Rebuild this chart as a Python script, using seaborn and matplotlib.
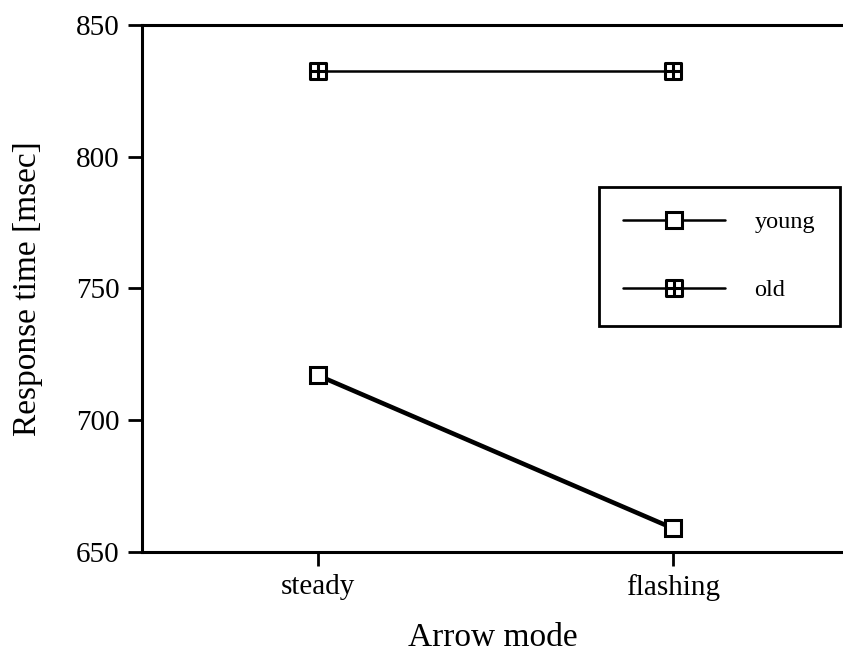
import matplotlib
matplotlib.use("Agg")
import matplotlib.pyplot as plt
import seaborn as sns
import pandas as pd
from matplotlib.path import Path
from matplotlib.lines import Line2D

modes = ["steady", "flashing"]
young = [717, 659]
old = [832.5, 832.5]
groups = ["young", "old"]
yticks = [650, 700, 750, 800, 850]

df = pd.DataFrame({
    "mode": modes * 2,
    "rt": young + old,
    "group": ["young"] * 2 + ["old"] * 2,
})

sns.set_theme(style="ticks")
plt.rcParams["font.family"] = ["Liberation Serif", "DejaVu Serif"]
plt.rcParams["text.color"] = "black"
plt.rcParams["axes.labelcolor"] = "black"
plt.rcParams["xtick.color"] = "black"
plt.rcParams["ytick.color"] = "black"

# square with a plus inside
sq_cross = Path(
    [(-1, -1), (1, -1), (1, 1), (-1, 1), (-1, -1),
     (-1, 0), (1, 0), (0, -1), (0, 1)],
    [Path.MOVETO, Path.LINETO, Path.LINETO, Path.LINETO, Path.CLOSEPOLY,
     Path.MOVETO, Path.LINETO, Path.MOVETO, Path.LINETO],
)

fig = plt.figure(figsize=(8.43, 6.57), dpi=100)
ax = fig.add_axes([0.1684, 0.1598, 1 - 0.1684, 0.962 - 0.1598])

sns.lineplot(data=df, x="mode", y="rt", hue="group", style="group",
             palette={"young": "black", "old": "black"},
             markers={"young": "s", "old": sq_cross},
             dashes=False, ax=ax, legend=False, sort=False)

lw = {"young": 3.3, "old": 1.8}
for line, g in zip(ax.get_lines(), groups):
    line.set_linewidth(lw[g])
    line.set_markersize(11.5)
    line.set_markerfacecolor("white")
    line.set_markeredgecolor("black")
    line.set_markeredgewidth(2.2)
    line.set_zorder(3)

ax.set_xlim(-0.496, 1.479)
ax.set_ylim(650, 850)
ax.set_yticks(yticks)
ax.set_yticklabels([str(v) for v in yticks])

for s in ["left", "bottom", "top"]:
    ax.spines[s].set_linewidth(2.2)
    ax.spines[s].set_color("black")
ax.spines["right"].set_visible(False)

ax.tick_params(axis="both", direction="out", length=10, width=2.0,
               labelsize=21, colors="black", labelcolor="black", pad=6)
ax.set_xlabel("Arrow mode", fontsize=24, labelpad=15, color="black")
ax.set_ylabel("Response time [msec]", fontsize=24, labelpad=24, color="black")

handles = [
    Line2D([], [], color="black", lw=1.8, marker="s", markersize=11,
           markerfacecolor="white", markeredgecolor="black", markeredgewidth=2.2),
    Line2D([], [], color="black", lw=1.8, marker=sq_cross, markersize=11,
           markerfacecolor="white", markeredgecolor="black", markeredgewidth=2.2),
]
leg = ax.legend(handles, groups, loc="upper left",
                bbox_to_anchor=(0.652, 0.6926), fontsize=17.5,
                handlelength=4.2, handletextpad=1.2, labelspacing=1.9,
                borderpad=1.0, borderaxespad=0, fancybox=False,
                framealpha=1, edgecolor="black")
leg.get_frame().set_linewidth(2.0)
for t in leg.get_texts():
    t.set_color("black")

fig.savefig("out.png", dpi=100)
